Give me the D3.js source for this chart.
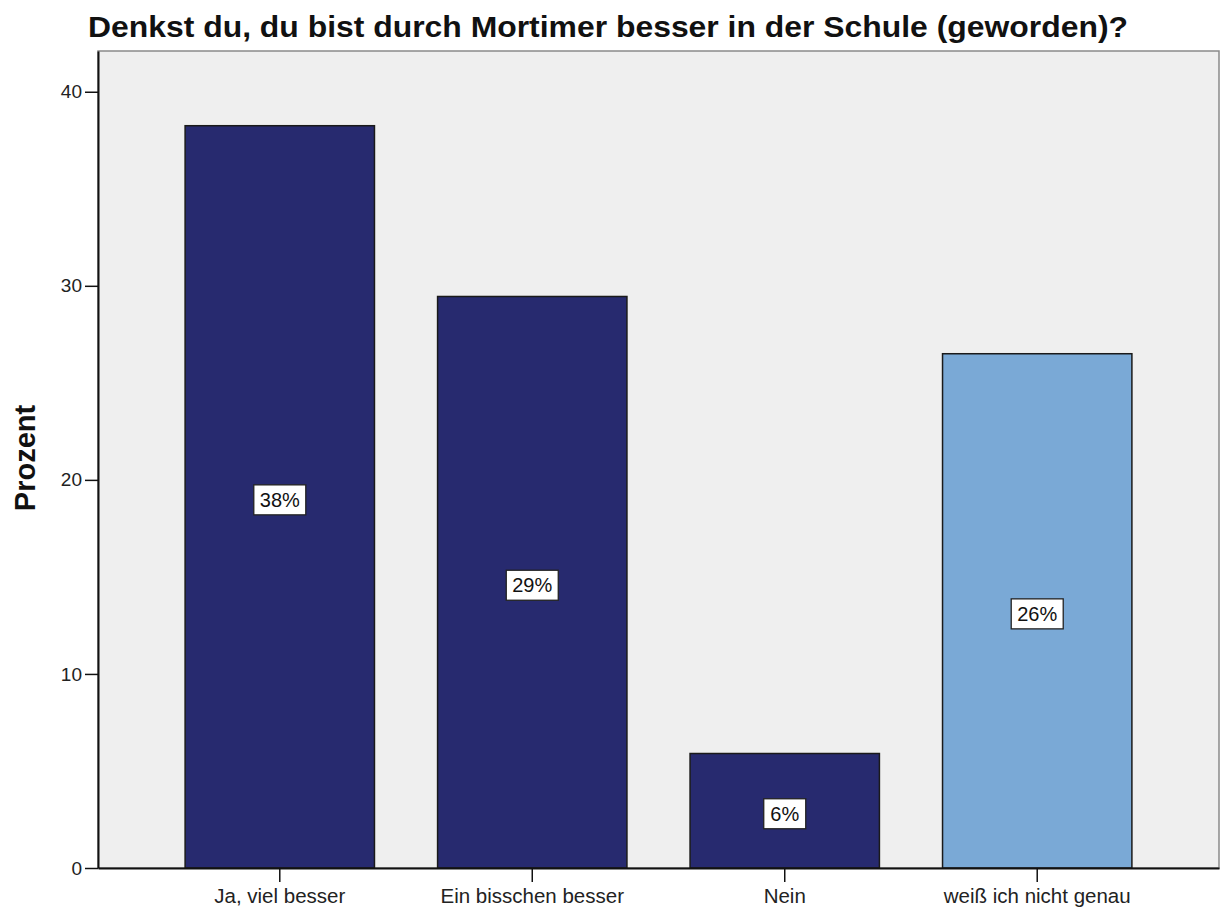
<!DOCTYPE html>
<html>
<head>
<meta charset="utf-8">
<script src="https://cdn.jsdelivr.net/npm/d3@7"></script>
<style>
  body { margin: 0; background: #fff; }
  svg text { font-family: "Liberation Sans", Arial, sans-serif; }
</style>
</head>
<body>
<svg id="chart"></svg>
<script>
(function(){

    var categories = ["Ja, viel besser", "Ein bisschen besser", "Nein", "weiß ich nicht genau"];
    var values = [38.25, 29.45, 5.9, 26.5];
    var labels = ["38%", "29%", "6%", "26%"];
    var colors = ["#272a6f", "#272a6f", "#272a6f", "#7aa9d6"];
    var yTicks = [0, 10, 20, 30, 40];

    var W = 1221, H = 910;
    var margin = {top: 51, right: 2, bottom: 42, left: 98};
    var width = W - margin.left - margin.right;
    var height = H - margin.top - margin.bottom;

    var svg = d3.select("#chart")
        .attr("width", W)
        .attr("height", H)

    var g = svg.append("g")
        .attr("transform", "translate(" + margin.left + "," + margin.top + ")");

    let yScale = d3.scaleLinear()
        .domain([0, 42.1])
        .range([height, 0])

    let xScale = d3.scaleBand()
        .domain(categories)
        .range([0, width])
        .paddingInner(0.25)
        .paddingOuter(0.345)

    // plot background + frame
    g.append("rect")
        .attr("width", width)
        .attr("height", height)
        .attr("fill", "#efefef")
        .attr("stroke", "#8a8a8a")
        .attr("stroke-width", 1.5)

    let data = categories.map((c, i) => ({cat: c, value: values[i], label: labels[i], color: colors[i]}))

    g.selectAll("rect.bar")
        .data(data)
        .enter()
        .append("rect")
            .attr("class", "bar")
            .attr("x", d => xScale(d.cat))
            .attr("y", d => yScale(d.value))
            .attr("width", xScale.bandwidth())
            .attr("height", d => height - yScale(d.value))
            .attr("fill", d => d.color)
            .attr("stroke", "#1a1a1a")
            .attr("stroke-width", 1.5)

    // value labels in white boxes
    let lab = g.selectAll("g.lab")
        .data(data)
        .enter()
        .append("g")
            .attr("class", "lab")
            .attr("transform", d => "translate(" + (xScale(d.cat) + xScale.bandwidth() / 2) + "," + (yScale(d.value / 2) + 3) + ")")

    lab.append("rect")
        .attr("x", d => d.label.length > 2 ? -26 : -21)
        .attr("y", -15)
        .attr("width", d => d.label.length > 2 ? 52 : 42)
        .attr("height", 30)
        .attr("fill", "#fff")
        .attr("stroke", "#222")
        .attr("stroke-width", 1.3)

    lab.append("text")
        .attr("text-anchor", "middle")
        .attr("dy", "0.36em")
        .attr("font-size", "20px")
        .attr("fill", "#111")
        .text(d => d.label)

    // y axis
    let yAxis = g.append("g")
        .call(d3.axisLeft(yScale).tickValues(yTicks).tickSize(13).tickPadding(3).tickSizeOuter(0))
    yAxis.select(".domain").attr("stroke", "#111").attr("stroke-width", 2)
    yAxis.selectAll(".tick line").attr("stroke", "#111").attr("stroke-width", 1.5)
    yAxis.selectAll(".tick text").attr("font-size", "19px").attr("fill", "#222")

    // x axis
    let xAxis = g.append("g")
        .attr("transform", "translate(0," + height + ")")
        .call(d3.axisBottom(xScale).tickSize(14).tickPadding(6).tickSizeOuter(0))
    xAxis.select(".domain").attr("stroke", "#111").attr("stroke-width", 2)
    xAxis.selectAll(".tick line").attr("stroke", "#111").attr("stroke-width", 1.5)
    xAxis.selectAll(".tick text").attr("font-size", "20.5px").attr("fill", "#222")

    svg.append("text")
        .attr("x", 88)
        .attr("y", 37)
        .attr("font-size", "29px")
        .attr("font-weight", "bold")
        .attr("fill", "#111")
        .attr("textLength", 1040)
        .attr("lengthAdjust", "spacingAndGlyphs")
        .text("Denkst du, du bist durch Mortimer besser in der Schule (geworden)?")

    svg.append("text")
        .attr("transform", "translate(35," + 458 + ") rotate(-90)")
        .attr("text-anchor", "middle")
        .attr("font-size", "29px")
        .attr("font-weight", "bold")
        .attr("fill", "#111")
        .text("Prozent")

})()
</script>
</body>
</html>
